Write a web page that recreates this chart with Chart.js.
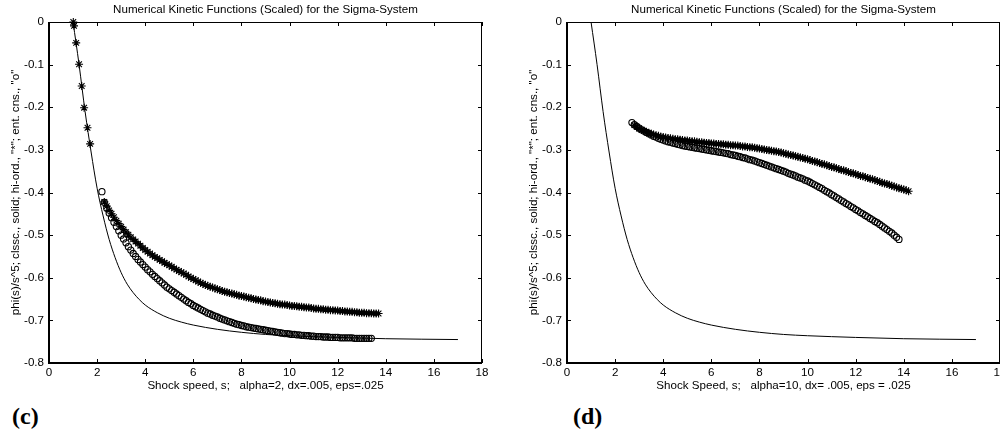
<!DOCTYPE html>
<html>
<head>
<meta charset="utf-8">
<script src="https://cdn.jsdelivr.net/npm/chart.js@4.4.1/dist/chart.umd.min.js"></script>
<style>
  html, body { margin: 0; padding: 0; background: #fff; overflow: hidden; }
  body { width: 1000px; height: 435px; position: relative; }
  canvas { position: absolute; top: 0; }
  #chartC { left: 0; }
  #chartD { left: 518px; }
  .panel { position: absolute; top: 403px; font: bold 24px "Liberation Serif", serif; color: #000; }
</style>
</head>
<body>
<canvas id="chartC" width="500" height="400"></canvas>
<canvas id="chartD" width="500" height="400"></canvas>
<div class="panel" style="left:12px">(c)</div>
<div class="panel" style="left:573px">(d)</div>
<script>
// tick labels
const xTicks = [0, 2, 4, 6, 8, 10, 12, 14, 16, 18];
const yTicks = [0, -0.1, -0.2, -0.3, -0.4, -0.5, -0.6, -0.7, -0.8];

const chartTitle = "Numerical Kinetic Functions (Scaled) for the Sigma-System";
const yTitle = 'phi(s)/s^5; clssc., solid; hi-ord., "*"; ent. cns., "o"';
const xTitleC = "Shock speed, s;   alpha=2, dx=.005, eps=.025";
const xTitleD = "Shock Speed, s;   alpha=10, dx= .005, eps = .025";

// classical kinetic function (solid line), same in both panels
const classicX = [1.0, 1.25, 1.5, 1.75, 2.0, 2.25, 2.5, 2.75, 3.0, 3.25, 3.5, 3.75, 4.0, 4.5, 5.0, 5.5, 6.0, 7.0, 8.0, 9.0, 10.0, 12.0, 14.0, 17.0];
const classicY = [0, -0.10, -0.21, -0.305, -0.39, -0.455, -0.51, -0.553, -0.588, -0.615, -0.635, -0.651, -0.664, -0.682, -0.695, -0.704, -0.711, -0.721, -0.728, -0.733, -0.736, -0.740, -0.743, -0.745];

// panel (c): high-order "*"
const cStarX = [1.01, 1.04, 1.13, 1.25, 1.36, 1.46, 1.6, 1.71,
  2.3, 2.4, 2.5, 2.6, 2.7, 2.8, 2.9,
  3.0, 3.1, 3.2, 3.3, 3.4, 3.5, 3.6, 3.7, 3.8, 3.9,
  4.0, 4.1, 4.2, 4.3, 4.4, 4.5, 4.6, 4.7, 4.8, 4.9,
  5.0, 5.1, 5.2, 5.3, 5.4, 5.5, 5.6, 5.7, 5.8, 5.9,
  6.0, 6.1, 6.2, 6.3, 6.4, 6.5, 6.6, 6.7, 6.8, 6.9,
  7.0, 7.1, 7.2, 7.3, 7.4, 7.5, 7.6, 7.7, 7.8, 7.9,
  8.0, 8.1, 8.2, 8.3, 8.4, 8.5, 8.6, 8.7, 8.8, 8.9,
  9.0, 9.1, 9.2, 9.3, 9.4, 9.5, 9.6, 9.7, 9.8, 9.9,
  10.0, 10.1, 10.2, 10.3, 10.4, 10.5, 10.6, 10.7, 10.8, 10.9,
  11.0, 11.1, 11.2, 11.3, 11.4, 11.5, 11.6, 11.7, 11.8, 11.9,
  12.0, 12.1, 12.2, 12.3, 12.4, 12.5, 12.6, 12.7, 12.8, 12.9,
  13.0, 13.1, 13.2, 13.3, 13.4, 13.5, 13.6, 13.7];
const cStarY = [0, -0.009, -0.049, -0.099, -0.150, -0.201, -0.248, -0.286,
  -0.422, -0.432, -0.442, -0.450, -0.458, -0.466, -0.473,
  -0.480, -0.487, -0.493, -0.499, -0.505, -0.510, -0.515, -0.520, -0.525, -0.530,
  -0.535, -0.539, -0.543, -0.547, -0.551, -0.554, -0.558, -0.561, -0.565, -0.568,
  -0.571, -0.574, -0.578, -0.581, -0.584, -0.587, -0.590, -0.593, -0.597, -0.600,
  -0.603, -0.606, -0.609, -0.612, -0.614, -0.617, -0.619, -0.621, -0.623, -0.625,
  -0.627, -0.629, -0.631, -0.633, -0.634, -0.636, -0.637, -0.639, -0.640, -0.642,
  -0.643, -0.644, -0.646, -0.647, -0.648, -0.650, -0.651, -0.652, -0.653, -0.655,
  -0.656, -0.657, -0.658, -0.659, -0.660, -0.661, -0.662, -0.663, -0.663, -0.664,
  -0.665, -0.666, -0.666, -0.667, -0.668, -0.668, -0.669, -0.670, -0.670, -0.671,
  -0.672, -0.673, -0.673, -0.674, -0.674, -0.675, -0.675, -0.676, -0.676, -0.677,
  -0.677, -0.678, -0.678, -0.679, -0.679, -0.680, -0.680, -0.681, -0.681, -0.682,
  -0.682, -0.682, -0.683, -0.683, -0.683, -0.684, -0.684, -0.684];

// panel (c): entropy conservative "o"
const cCircX = [2.2, 2.3, 2.4, 2.5, 2.6, 2.7, 2.8, 2.9,
  3.0, 3.1, 3.2, 3.3, 3.4, 3.5, 3.6, 3.7, 3.8, 3.9,
  4.0, 4.1, 4.2, 4.3, 4.4, 4.5, 4.6, 4.7, 4.8, 4.9,
  5.0, 5.1, 5.2, 5.3, 5.4, 5.5, 5.6, 5.7, 5.8, 5.9,
  6.0, 6.1, 6.2, 6.3, 6.4, 6.5, 6.6, 6.7, 6.8, 6.9,
  7.0, 7.1, 7.2, 7.3, 7.4, 7.5, 7.6, 7.7, 7.8, 7.9,
  8.0, 8.1, 8.2, 8.3, 8.4, 8.5, 8.6, 8.7, 8.8, 8.9,
  9.0, 9.1, 9.2, 9.3, 9.4, 9.5, 9.6, 9.7, 9.8, 9.9,
  10.0, 10.1, 10.2, 10.3, 10.4, 10.5, 10.6, 10.7, 10.8, 10.9,
  11.0, 11.1, 11.2, 11.3, 11.4, 11.5, 11.6, 11.7, 11.8, 11.9,
  12.0, 12.1, 12.2, 12.3, 12.4, 12.5, 12.6, 12.7, 12.8, 12.9,
  13.0, 13.1, 13.2, 13.3, 13.4];
const cCircY = [-0.398, -0.423, -0.437, -0.448, -0.459, -0.470, -0.480, -0.490,
  -0.500, -0.509, -0.518, -0.527, -0.535, -0.543, -0.550, -0.557, -0.563, -0.569,
  -0.575, -0.581, -0.586, -0.592, -0.597, -0.602, -0.607, -0.612, -0.617, -0.622,
  -0.626, -0.630, -0.634, -0.638, -0.642, -0.646, -0.650, -0.654, -0.658, -0.661,
  -0.665, -0.668, -0.671, -0.674, -0.677, -0.680, -0.683, -0.685, -0.688, -0.690,
  -0.692, -0.695, -0.697, -0.699, -0.701, -0.703, -0.705, -0.707, -0.709, -0.710,
  -0.712, -0.713, -0.715, -0.716, -0.717, -0.718, -0.719, -0.720, -0.721, -0.722,
  -0.723, -0.724, -0.725, -0.726, -0.727, -0.728, -0.729, -0.730, -0.731, -0.731,
  -0.732, -0.733, -0.733, -0.734, -0.734, -0.735, -0.735, -0.736, -0.736, -0.737,
  -0.737, -0.738, -0.738, -0.738, -0.739, -0.739, -0.739, -0.740, -0.740, -0.740,
  -0.740, -0.741, -0.741, -0.741, -0.741, -0.741, -0.741, -0.742, -0.742, -0.742,
  -0.742, -0.742, -0.742, -0.742, -0.742];

// panel (d): high-order "*"
const dStarX = [2.8, 2.9,
  3.0, 3.1, 3.2, 3.3, 3.4, 3.5, 3.6, 3.7, 3.8, 3.9,
  4.0, 4.1, 4.2, 4.3, 4.4, 4.5, 4.6, 4.7, 4.8, 4.9,
  5.0, 5.1, 5.2, 5.3, 5.4, 5.5, 5.6, 5.7, 5.8, 5.9,
  6.0, 6.1, 6.2, 6.3, 6.4, 6.5, 6.6, 6.7, 6.8, 6.9,
  7.0, 7.1, 7.2, 7.3, 7.4, 7.5, 7.6, 7.7, 7.8, 7.9,
  8.0, 8.1, 8.2, 8.3, 8.4, 8.5, 8.6, 8.7, 8.8, 8.9,
  9.0, 9.1, 9.2, 9.3, 9.4, 9.5, 9.6, 9.7, 9.8, 9.9,
  10.0, 10.1, 10.2, 10.3, 10.4, 10.5, 10.6, 10.7, 10.8, 10.9,
  11.0, 11.1, 11.2, 11.3, 11.4, 11.5, 11.6, 11.7, 11.8, 11.9,
  12.0, 12.1, 12.2, 12.3, 12.4, 12.5, 12.6, 12.7, 12.8, 12.9,
  13.0, 13.1, 13.2, 13.3, 13.4, 13.5, 13.6, 13.7, 13.8, 13.9,
  14.0, 14.1, 14.2];
const dStarY = [-0.242, -0.246,
  -0.250, -0.253, -0.255, -0.258, -0.260, -0.262, -0.264, -0.266, -0.267, -0.269,
  -0.270, -0.271, -0.272, -0.273, -0.274, -0.275, -0.275, -0.276, -0.277, -0.278,
  -0.278, -0.279, -0.280, -0.280, -0.281, -0.282, -0.282, -0.283, -0.284, -0.284,
  -0.285, -0.285, -0.286, -0.286, -0.287, -0.287, -0.288, -0.288, -0.289, -0.289,
  -0.290, -0.290, -0.291, -0.292, -0.292, -0.293, -0.294, -0.294, -0.295, -0.296,
  -0.297, -0.298, -0.299, -0.300, -0.301, -0.302, -0.303, -0.304, -0.305, -0.306,
  -0.308, -0.309, -0.311, -0.312, -0.313, -0.315, -0.316, -0.318, -0.319, -0.321,
  -0.322, -0.324, -0.326, -0.327, -0.329, -0.331, -0.333, -0.334, -0.336, -0.338,
  -0.340, -0.341, -0.343, -0.345, -0.347, -0.348, -0.350, -0.352, -0.354, -0.355,
  -0.357, -0.359, -0.361, -0.362, -0.364, -0.366, -0.368, -0.369, -0.371, -0.373,
  -0.375, -0.377, -0.379, -0.380, -0.382, -0.384, -0.386, -0.388, -0.390, -0.391,
  -0.393, -0.395, -0.397];

// panel (d): entropy conservative "o"
const dCircX = [2.7, 2.8, 2.9,
  3.0, 3.1, 3.2, 3.3, 3.4, 3.5, 3.6, 3.7, 3.8, 3.9,
  4.0, 4.1, 4.2, 4.3, 4.4, 4.5, 4.6, 4.7, 4.8, 4.9,
  5.0, 5.1, 5.2, 5.3, 5.4, 5.5, 5.6, 5.7, 5.8, 5.9,
  6.0, 6.1, 6.2, 6.3, 6.4, 6.5, 6.6, 6.7, 6.8, 6.9,
  7.0, 7.1, 7.2, 7.3, 7.4, 7.5, 7.6, 7.7, 7.8, 7.9,
  8.0, 8.1, 8.2, 8.3, 8.4, 8.5, 8.6, 8.7, 8.8, 8.9,
  9.0, 9.1, 9.2, 9.3, 9.4, 9.5, 9.6, 9.7, 9.8, 9.9,
  10.0, 10.1, 10.2, 10.3, 10.4, 10.5, 10.6, 10.7, 10.8, 10.9,
  11.0, 11.1, 11.2, 11.3, 11.4, 11.5, 11.6, 11.7, 11.8, 11.9,
  12.0, 12.1, 12.2, 12.3, 12.4, 12.5, 12.6, 12.7, 12.8, 12.9,
  13.0, 13.1, 13.2, 13.3, 13.4, 13.5, 13.6, 13.7, 13.8];
const dCircY = [-0.236, -0.241, -0.245,
  -0.249, -0.253, -0.256, -0.259, -0.262, -0.265, -0.268, -0.270, -0.273, -0.275,
  -0.277, -0.279, -0.281, -0.282, -0.284, -0.285, -0.287, -0.288, -0.290, -0.291,
  -0.292, -0.293, -0.294, -0.295, -0.296, -0.297, -0.298, -0.299, -0.300, -0.301,
  -0.302, -0.303, -0.304, -0.305, -0.306, -0.307, -0.308, -0.309, -0.311, -0.312,
  -0.313, -0.315, -0.316, -0.318, -0.319, -0.321, -0.323, -0.324, -0.326, -0.328,
  -0.330, -0.332, -0.334, -0.336, -0.338, -0.340, -0.342, -0.344, -0.346, -0.348,
  -0.350, -0.352, -0.355, -0.357, -0.359, -0.361, -0.364, -0.366, -0.368, -0.371,
  -0.373, -0.376, -0.379, -0.382, -0.385, -0.388, -0.391, -0.395, -0.398, -0.401,
  -0.405, -0.408, -0.412, -0.415, -0.419, -0.422, -0.426, -0.429, -0.433, -0.436,
  -0.440, -0.443, -0.447, -0.450, -0.454, -0.457, -0.461, -0.464, -0.468, -0.471,
  -0.475, -0.479, -0.483, -0.487, -0.491, -0.495, -0.500, -0.505, -0.510];

const FONT = '"Liberation Sans", Arial, sans-serif';
const FSIZE = 11.6;

const zip = (xs, ys) => xs.map((x, i) => ({ x: x, y: ys[i] }));

// box with inward ticks on all four sides, plus the title over the plot
const framePlugin = {
  id: "frame",
  afterDraw(chart) {
    const ctx = chart.ctx;
    const { left, right, top, bottom } = chart.chartArea;
    const sx = chart.scales.x, sy = chart.scales.y;
    ctx.save();
    ctx.strokeStyle = "#000";
    ctx.lineWidth = 1;
    ctx.beginPath();
    sx.ticks.forEach(t => {
      const px = Math.round(sx.getPixelForValue(t.value)) + 0.5;
      ctx.moveTo(px, bottom); ctx.lineTo(px, bottom - 4);
      ctx.moveTo(px, top); ctx.lineTo(px, top + 4);
    });
    sy.ticks.forEach(t => {
      const py = Math.round(sy.getPixelForValue(t.value)) + 0.5;
      ctx.moveTo(left, py); ctx.lineTo(left + 4, py);
      ctx.moveTo(right, py); ctx.lineTo(right - 4, py);
    });
    ctx.moveTo(left, top + 0.5); ctx.lineTo(right, top + 0.5);
    ctx.moveTo(right - 0.5, top); ctx.lineTo(right - 0.5, bottom);
    ctx.stroke();
    ctx.lineWidth = 2;
    ctx.beginPath();
    ctx.moveTo(left, top); ctx.lineTo(left, bottom); ctx.lineTo(right, bottom);
    ctx.stroke();
    ctx.fillStyle = "#000";
    ctx.font = FSIZE + "px " + FONT;
    ctx.textAlign = "center";
    ctx.textBaseline = "middle";
    ctx.fillText(chartTitle, (left + right) / 2, 10);
    ctx.restore();
  }
};

function makeChart(id, starX, starY, circX, circY, xTitle) {
  return new Chart(document.getElementById(id), {
    type: "scatter",
    data: {
      datasets: [
        {
          label: "classical",
          data: zip(classicX, classicY),
          showLine: true,
          pointRadius: 0,
          borderColor: "#000",
          borderWidth: 1,
          cubicInterpolationMode: "monotone"
        },
        {
          label: "hi-ord",
          data: zip(starX, starY),
          pointStyle: "star",
          pointRadius: 4,
          borderColor: "#000",
          borderWidth: 1.1,
          clip: false
        },
        {
          label: "ent. cns.",
          data: zip(circX, circY),
          pointStyle: "circle",
          pointRadius: 3.1,
          borderColor: "#000",
          backgroundColor: "rgba(0,0,0,0)",
          borderWidth: 1.1,
          clip: false
        }
      ]
    },
    options: {
      responsive: false,
      animation: false,
      events: [],
      layout: { padding: { top: 22, right: 18, left: 0, bottom: 0 } },
      plugins: { legend: { display: false }, tooltip: { enabled: false } },
      scales: {
        x: {
          type: "linear",
          min: 0,
          max: 18,
          afterBuildTicks: s => { s.ticks = xTicks.map(v => ({ value: v })); },
          afterFit: s => { s.height = 37; },
          grid: { display: false, drawTicks: false },
          border: { display: false },
          ticks: { color: "#000", padding: 3, font: { family: FONT, size: FSIZE }, callback: v => String(v) },
          title: { display: true, text: xTitle, color: "#000", font: { family: FONT, size: FSIZE }, padding: { top: 0, bottom: 7 } }
        },
        y: {
          type: "linear",
          min: -0.8,
          max: 0,
          afterBuildTicks: s => { s.ticks = yTicks.map(v => ({ value: v })); },
          afterFit: s => { s.width = 49; },
          grid: { display: false, drawTicks: false },
          border: { display: false },
          ticks: { color: "#000", padding: 5, font: { family: FONT, size: FSIZE }, callback: v => (v === 0 ? "0" : v.toFixed(1)) },
          title: { display: true, text: yTitle, color: "#000", font: { family: FONT, size: FSIZE }, padding: { top: 9, bottom: 0 } }
        }
      }
    },
    plugins: [framePlugin]
  });
}

makeChart("chartC", cStarX, cStarY, cCircX, cCircY, xTitleC);
makeChart("chartD", dStarX, dStarY, dCircX, dCircY, xTitleD);
</script>
</body>
</html>
